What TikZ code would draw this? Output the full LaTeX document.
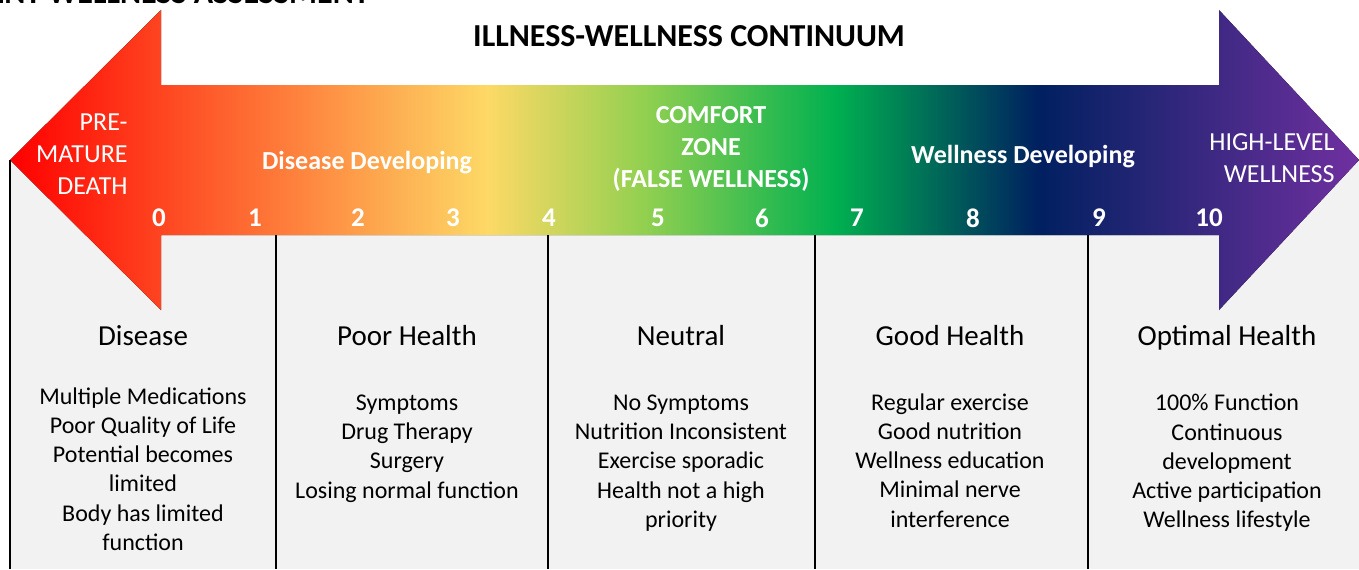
\documentclass[tikz,border=0pt]{standalone}
\usepackage{fontspec}
\setmainfont{Carlito}
\usepackage{xcolor}
\usetikzlibrary{shapes,calc}
\definecolor{cRed}{HTML}{FF0000}
\definecolor{cYellow}{HTML}{FDD966}
\definecolor{cLime}{HTML}{92D050}
\definecolor{cGreen}{HTML}{00B050}
\definecolor{cNavy}{HTML}{002060}
\definecolor{cPurple}{HTML}{7030A0}
\definecolor{panelgray}{HTML}{F2F2F2}
\pgfdeclarehorizontalshading{continuum}{100bp}{color(0bp)=(cRed); color(25bp)=(cRed); color(42.7bp)=(cYellow); color(48.5bp)=(cLime); color(55.6bp)=(cGreen); color(63.1bp)=(cNavy); color(75bp)=(cPurple); color(100bp)=(cPurple)}

\begin{document}
\begin{tikzpicture}[x = .5pt, y = -.5pt,
    arrowtxt/.style = {text = white, font = \fontsize{13}{16}\selectfont, inner sep = 0pt},
    boldtxt/.style = {text = white, font = \fontsize{13}{16}\selectfont\bfseries, inner sep = 0pt},
    numtxt/.style = {text = white, font = \fontsize{13.5}{16}\selectfont\bfseries, inner sep = 0pt},
    headtxt/.style = {font = \fontsize{14.5}{17}\selectfont, inner sep = 0pt, anchor = base},
    bodytxt/.style = {font = \fontsize{12}{14.6}\selectfont, align = center, inner sep = 0pt},
    sep/.style = {line width = 1pt}]
    \useasboundingbox (0,0) rectangle (1359,569);
    \clip (0,0) rectangle (1359,569);
    \fill[panelgray] (10,160) rectangle (1359,569);
    % the double arrow
    \fill[shading = continuum] (10,160) -- (161,10) -- (161,85) -- (1219,85) -- (1219,10) -- (1359,160)
        -- (1219,310) -- (1219,235) -- (161,235) -- (161,310) -- cycle;
    \draw[sep] (10,160) -- (10,569);
    \foreach \xx in {276,548,815,1088}
        \draw[sep] (\xx,235) -- (\xx,569);
        % Labels
    \node[anchor = base east, font = \fontsize{16}{18}\selectfont\bfseries, inner sep = 0pt] (sheet) at (370,3) {PATIENT WELLNESS ASSESSMENT};
    \node[font = \fontsize{16}{18}\selectfont\bfseries, inner sep = 0pt] (title) at (689,36) {ILLNESS-WELLNESS CONTINUUM};
    \node[arrowtxt, anchor = east, align = right] (death) at (128,154) {PRE-\\MATURE\\DEATH};
    \node[boldtxt] (ill) at (367,163) {Disease Developing};
    \node[boldtxt, align = center] (comfort) at (711,149) {COMFORT\\ZONE\\(FALSE WELLNESS)};
    \node[boldtxt] (well) at (1023,156.5) {Wellness Developing};
    \node[arrowtxt, anchor = east, align = right] (high) at (1335,158) {HIGH-LEVEL\\WELLNESS};
    \foreach \n/\xx in {0/159,1/255,2/358,3/453,4/549,5/658,6/762,7/857,8/973,9/1099,10/1209}
        \node[numtxt] (n\n) at (\xx,218) {\n};
    % columns
    \node[headtxt] (disease) at (143,345) {Disease};
    \node[headtxt] (poor) at (407,345) {Poor Health};
    \node[headtxt] (neutral) at (681,345) {Neutral};
    \node[headtxt] (good) at (950,345) {Good Health};
    \node[headtxt] (optimal) at (1227,345) {Optimal Health};
    \node[bodytxt] (diseasetxt) at (143,469) {Multiple Medications\\Poor Quality of Life\\Potential becomes\\limited\\Body has limited\\function};
    \node[bodytxt] (poortxt) at (407,448.5) {Symptoms\\Drug Therapy\\Surgery\\Losing normal function};
    \node[bodytxt] (neutraltxt) at (681,463) {No Symptoms\\Nutrition Inconsistent\\Exercise sporadic\\Health not a high\\priority};
    \node[bodytxt] (goodtxt) at (950,460.5) {Regular exercise\\Good nutrition\\Wellness education\\Minimal nerve\\interference};
    \node[bodytxt] (optimaltxt) at (1227,463) {100\% Function\\Continuous\\development\\Active participation\\Wellness lifestyle};
\end{tikzpicture}
\end{document}
